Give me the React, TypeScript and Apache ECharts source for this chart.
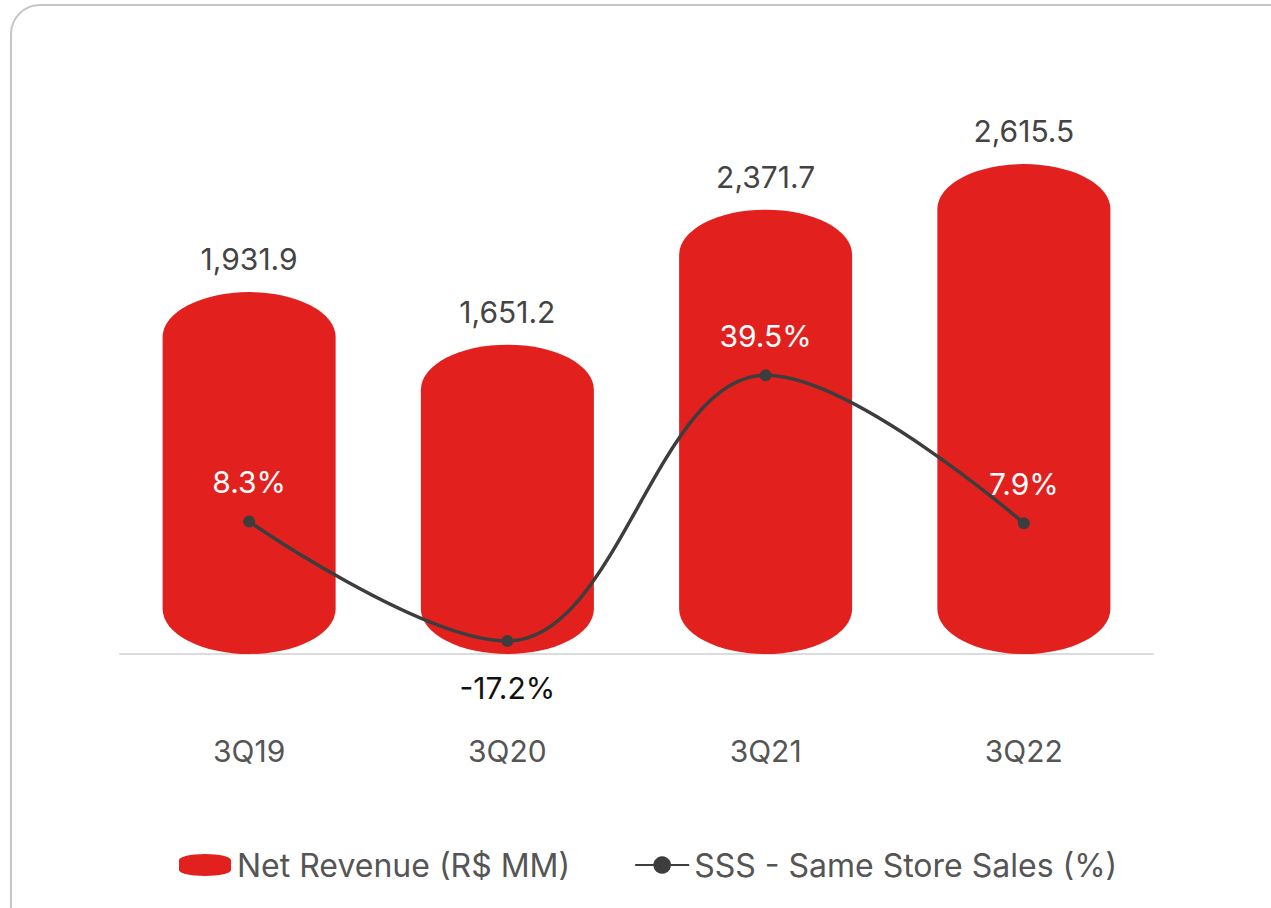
import React, { useEffect, useRef } from "react";
import * as echarts from "echarts";

const categories = ["3Q19", "3Q20", "3Q21", "3Q22"];
const netRevenue = [1931.9, 1651.2, 2371.7, 2615.5];
const sss = [8.3, -17.2, 39.5, 7.9];

const RED = "#E2211F";
const FONT = "Inter, 'Noto Sans', sans-serif";

const fmtRevenue = (v: number) =>
  v.toLocaleString("en-US", { minimumFractionDigits: 1, maximumFractionDigits: 1 });

export default function App() {
  const ref = useRef<HTMLDivElement>(null);
  useEffect(() => {
    if (!ref.current) return;
    const chart = echarts.init(ref.current, undefined, { renderer: "svg" });
    const option: any = {
      animation: false,
      backgroundColor: "transparent",
      textStyle: { fontFamily: FONT },
      grid: { left: 120, right: 118, top: 92, bottom: 254, containLabel: false },
      legend: {
        bottom: 22,
        left: 174,
        itemWidth: 54,
        itemHeight: 22,
        itemGap: 64,
        textStyle: { fontSize: 32, color: "#555", fontFamily: FONT },
        data: [
          {
            name: "Net Revenue (R$ MM)",
            icon: "path://M0,6 A26,6 0 0 1 52,6 L52,16 A26,6 0 0 1 0,16 Z",
            itemStyle: { color: RED },
          },
          { name: "SSS - Same Store Sales (%)" },
        ],
      },
      xAxis: {
        type: "category",
        data: categories,
        axisLine: { lineStyle: { color: "#dcdcdc", width: 2 } },
        axisTick: { show: false },
        axisLabel: { color: "#555", fontSize: 30, margin: 82, fontFamily: FONT },
      },
      yAxis: [
        { type: "value", min: 0, max: 3000, show: false, splitLine: { show: false } },
        { type: "value", min: -20, max: 100, show: false, splitLine: { show: false } },
      ],
      series: [
        {
          name: "Net Revenue (R$ MM)",
          type: "custom",
          yAxisIndex: 0,
          itemStyle: { color: RED },
          data: netRevenue.map((v, i) => [i, v]),
          renderItem: (params: any, api: any) => {
            const idx = api.value(0);
            const v = api.value(1);
            const top = api.coord([idx, v]);
            const base = api.coord([idx, 0]);
            const w = api.size([1, 0])[0] * 0.67;
            const x = top[0] - w / 2;
            const rx = w / 2;
            const ry = 45;
            const t = top[1];
            const b = base[1];
            const d = `M${x},${t + ry} A${rx},${ry} 0 0 1 ${x + w},${t + ry} L${x + w},${b - ry} A${rx},${ry} 0 0 1 ${x},${b - ry} Z`;
            return {
              type: "group",
              children: [
                {
                  type: "path",
                  shape: { pathData: d },
                  style: { fill: RED },
                },
                {
                  type: "text",
                  x: top[0],
                  y: t - 18,
                  style: {
                    text: fmtRevenue(v),
                    fill: "#444",
                    font: `30px ${FONT}`,
                    align: "center",
                    verticalAlign: "bottom",
                  },
                },
              ],
            };
          },
        },
        {
          name: "SSS - Same Store Sales (%)",
          type: "line",
          yAxisIndex: 1,
          smooth: 0.38,
          symbol: "circle",
          symbolSize: 12,
          z: 5,
          lineStyle: { color: "#3d3d3d", width: 3.5 },
          itemStyle: { color: "#3d3d3d" },
          data: sss.map((v) => ({
            value: v,
            label: {
              show: true,
              position: v < 0 ? "bottom" : "top",
              distance: v < 0 ? 26 : 18,
              color: v < 0 ? "#111" : "#fff",
              fontSize: 30,
              fontFamily: FONT,
              formatter: () => `${v.toFixed(1)}%`,
            },
          })),
        },
      ],
    };
    chart.setOption(option);
    return () => chart.dispose();
  }, []);

  return (
    <div
      style={{
        position: "fixed",
        left: 0,
        top: 0,
        width: 1271,
        height: 908,
        overflow: "hidden",
        background: "#fff",
      }}
    >
      <div
        style={{
          position: "absolute",
          left: 10,
          top: 4,
          width: 1320,
          height: 960,
          border: "2px solid #c6c6c6",
          borderRadius: 30,
          boxSizing: "border-box",
        }}
      />
      <div ref={ref} style={{ position: "absolute", left: 0, top: 0, width: 1271, height: 908 }} />
    </div>
  );
}
